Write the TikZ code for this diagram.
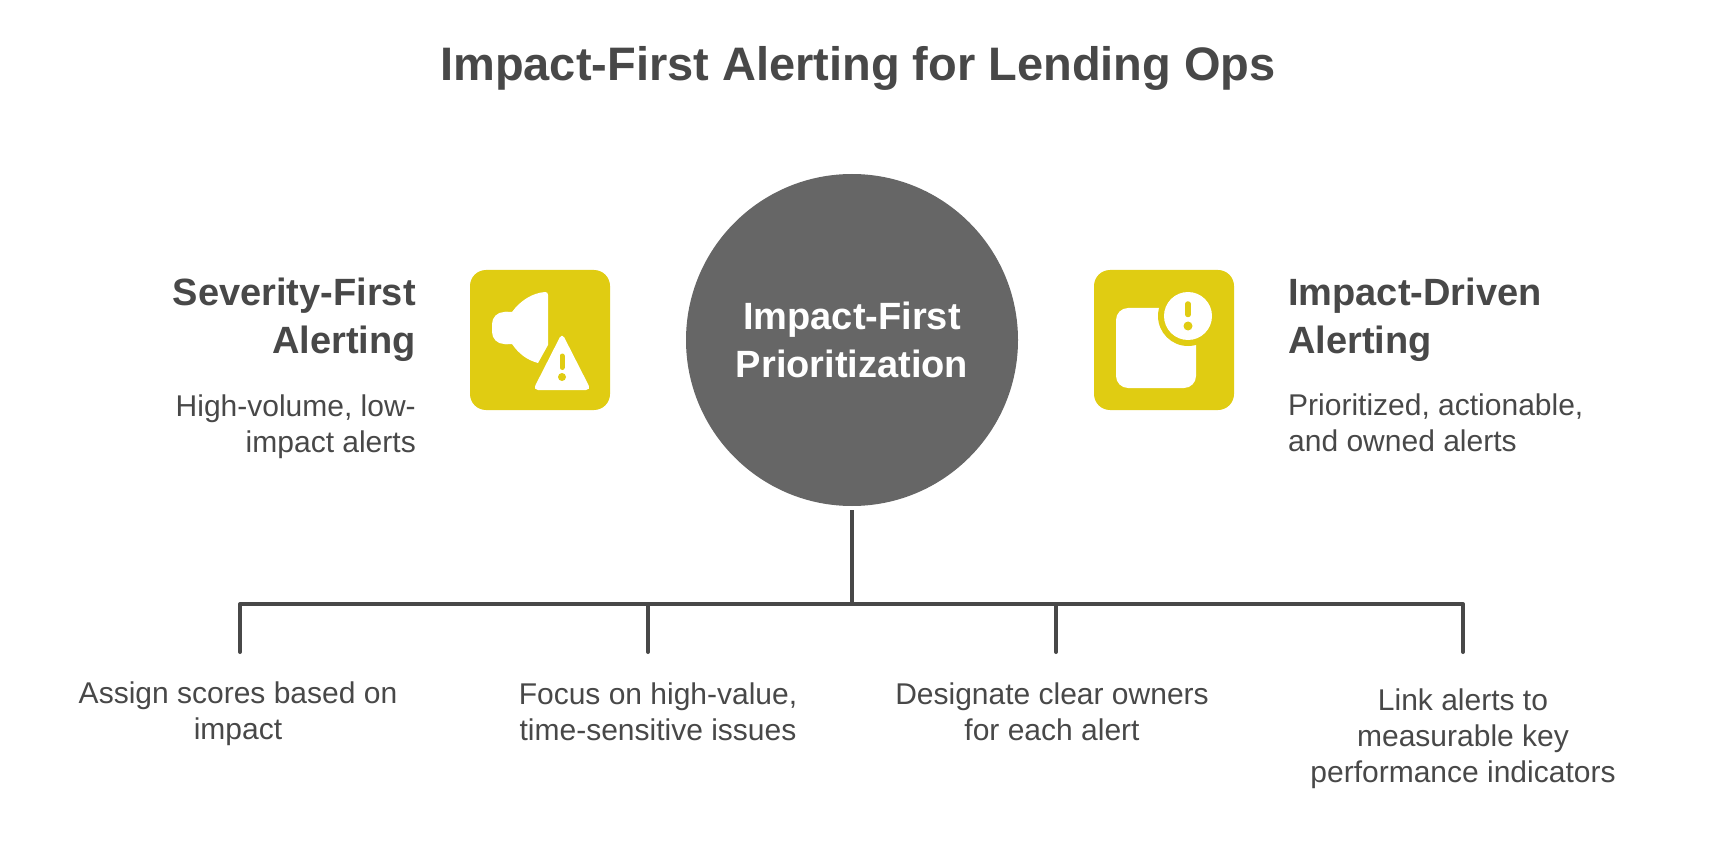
\documentclass[tikz,border=0pt]{standalone}
\usepackage{fontspec}
\setmainfont{Liberation Sans}
\usepackage{tikz}
\usetikzlibrary{calc}
\definecolor{inkgrey}{HTML}{484848}
\definecolor{hubgrey}{HTML}{666666}
\definecolor{iconyellow}{HTML}{E0CC12}
\tikzset{
  titletext/.style={text=inkgrey,font=\bfseries\fontsize{47}{55}\selectfont},
  headtext/.style={text=inkgrey,font=\bfseries\fontsize{38}{48}\selectfont,inner sep=0pt},
  bodytext/.style={text=inkgrey,font=\fontsize{30}{36}\selectfont,inner sep=0pt},
  iconbox/.style={fill=iconyellow,rounded corners=16pt,minimum size=140pt,inner sep=0pt},
  hubnode/.style={circle,fill=hubgrey,minimum size=332pt,inner sep=0pt,text=white,align=center,font=\bfseries\fontsize{38}{48}\selectfont},
  busline/.style={draw=inkgrey,line width=4pt,line cap=round}
}
\begin{document}
\begin{tikzpicture}[x=1pt,y=-1pt]
            \useasboundingbox (0,0) rectangle (1716,850);
            \node[titletext] (title) at (858,68){Impact-First Alerting for Lending Ops};

            \node[hubnode] (hub) at (852,340){Impact-First\\Prioritization};
            \node[iconbox] (boxleft) at (540,340){};
            \node[iconbox] (boxright) at (1164,340){};

            \node[headtext,align=right,anchor=east] (headleft) at (416,320){Severity-First\\Alerting};
            \node[bodytext,align=right,anchor=east] (bodyleft) at (416,426.5){High-volume, low-\\impact alerts};
            \node[headtext,align=left,anchor=west] (headright) at (1288,320){Impact-Driven\\Alerting};
            \node[bodytext,align=left,anchor=west] (bodyright) at (1288,423){Prioritized, actionable,\\and owned alerts};

            % speaker with warning sign
            \fill[white,rounded corners=12pt] (520,312) -- (492,312) -- (492,344) -- (520,344) -- cycle;
            \fill[white] (505,312) -- (512,312) .. controls (520,301) and (532,293) .. (545,292)
              .. controls (547,292) and (548,293) .. (548,295) -- (548,345) -- (538,363)
              .. controls (527,360) and (519,354) .. (512,344) -- (505,344) -- cycle;
            \fill[white,rounded corners=5pt] (562,333) -- (591,390) -- (533,390) -- cycle;
            \draw[iconyellow,line width=5pt,line cap=round] (562,356) -- (562,367.5);
            \fill[iconyellow] (562,377) circle (4pt);

            % note with alert badge
            \fill[white,rounded corners=12pt] (1116,308) rectangle (1196,388);
            \fill[iconyellow] (1188,316) circle (30pt);
            \fill[white] (1188,316) circle (24pt);
            \draw[iconyellow,line width=5.5pt,line cap=round] (1188,304) -- (1188,314.5);
            \fill[iconyellow] (1188,326) circle (4.5pt);

            \coordinate (stem) at (852,510);
            \coordinate (busa) at (240,604);
            \coordinate (busb) at (648,604);
            \coordinate (busc) at (852,604);
            \coordinate (busd) at (1056,604);
            \coordinate (buse) at (1463,604);
            \coordinate (foota) at (240,652);
            \coordinate (footb) at (648,652);
            \coordinate (footd) at (1056,652);
            \coordinate (foote) at (1463,652);
            \draw[busline,line cap=butt] (stem) -- (busc);
            \draw[busline,line join=round] (foota) -- (busa) -- (buse) -- (foote);
            \draw[busline] (busb) -- (footb);
            \draw[busline] (busd) -- (footd);

            \node[bodytext,align=center] (scorelabel) at (238,713.5){Assign scores based on\\impact};
            \node[bodytext,align=center] (focuslabel) at (658,711.5){Focus on high-value,\\time-sensitive issues};
            \node[bodytext,align=center] (ownerlabel) at (1052,711.5){Designate clear owners\\for each alert};
            \node[bodytext,align=center] (kpilabel) at (1463,739){Link alerts to\\measurable key\\performance indicators};
          \end{tikzpicture}
\end{document}
